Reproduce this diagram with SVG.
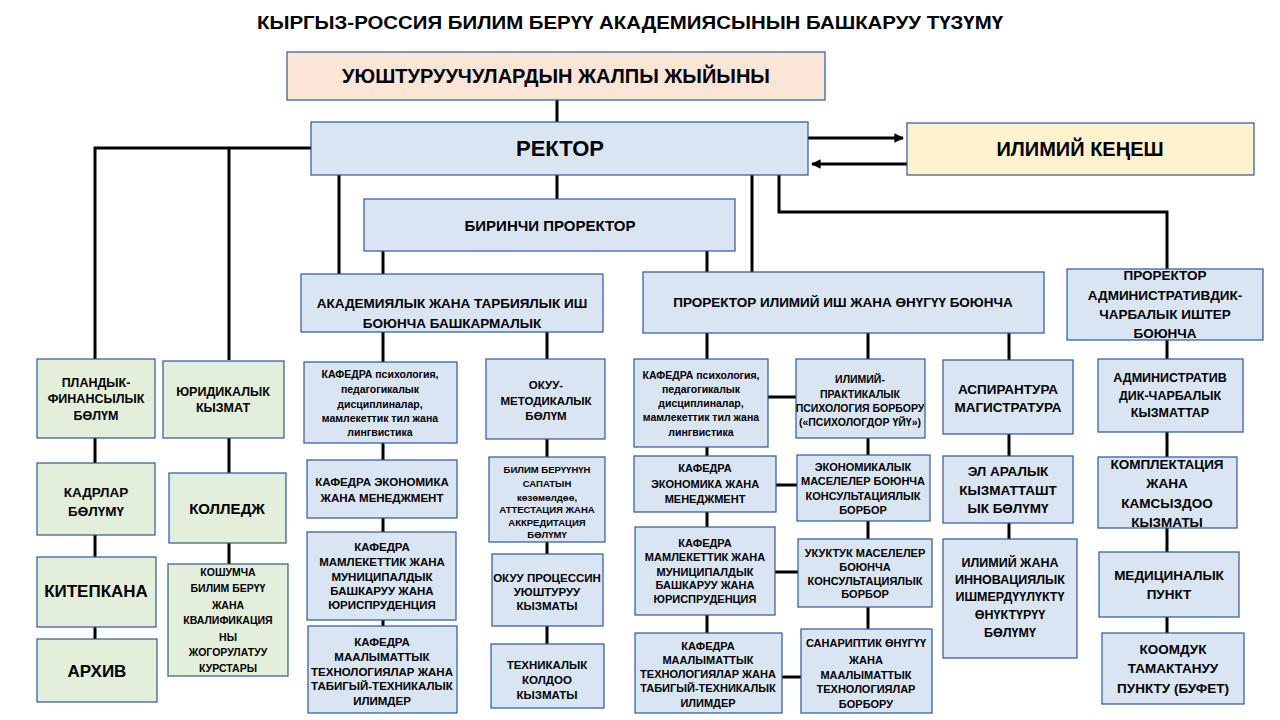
<svg xmlns="http://www.w3.org/2000/svg" width="1280" height="720" viewBox="0 0 1280 720">
<defs>
<marker id="ah" viewBox="0 0 10 10" refX="9" refY="5" markerWidth="3.2" markerHeight="3.2" orient="auto" markerUnits="strokeWidth">
<path d="M0,0 L10,5 L0,10 z" fill="#000"/>
</marker>
<style>
text{font-family:"Liberation Sans","DejaVu Sans",sans-serif;font-weight:bold;fill:#000;text-anchor:middle;dominant-baseline:central}
.bx{stroke:#2f5597;stroke-width:1.2}
.b{fill:#dae5f4}
.g{fill:#e2efda}
.p{fill:#fbe5d6}
.y{fill:#fff2cc}
.c{stroke:#000;stroke-width:3;fill:none}
.f10{font-size:9.5px}.f11{font-size:10.5px}.f115{font-size:11px}.f12{font-size:11.5px}.f13{font-size:12.5px}.f14{font-size:13.5px}.f15{font-size:15px}.f18{font-size:17px}.f21{font-size:20px}
</style>
</defs>
<rect width="1280" height="720" fill="#fff"/>
<text x="630" y="22" style="font-size:19px" textLength="746" lengthAdjust="spacingAndGlyphs">КЫРГЫЗ-РОССИЯ БИЛИМ БЕРҮҮ  АКАДЕМИЯСЫНЫН БАШКАРУУ ТҮЗҮМҮ</text>

<g id="connectors">
<path class="c" d="M557,100V122 M557,175V199"/>
<path class="c" d="M311,148H95V360 M229,148V360 M339,175V274 M383,251V274"/>
<path class="c" d="M707,251V272 M752,175V272 M779,175V212H1167V360"/>
<path class="c" d="M808,138H903" marker-end="url(#ah)"/>
<path class="c" d="M907,164H812" marker-end="url(#ah)"/>
<path class="c" d="M95,438V463 M95,535V557 M95,627V639 M229,438V473 M229,543V564"/>
<path class="c" d="M383,332V362 M383,443V460 M383,518V532 M383,620V626 M547,332V359 M547,439V457 M547,542V554 M547,626V644"/>
<path class="c" d="M707,333V359 M707,447V456 M707,512V527 M707,615V633 M868,333V359 M868,438V455 M868,521V539 M868,607V629 M1009,333V360 M1009,434V456 M1009,523V539"/>
<path class="c" d="M768,397H796 M776,485H797 M775,572H798 M782,677H801"/>
<path class="c" d="M1167,432V457 M1167,528V552 M1167,617V633"/>
</g>

<g id="n-general"><rect class="bx p" x="287" y="52" width="538" height="48"/><text x="556" y="76" class="f21">УЮШТУРУУЧУЛАРДЫН ЖАЛПЫ ЖЫЙЫНЫ</text></g>
<g id="n-rector"><rect class="bx b" x="311" y="122" width="497" height="53"/><text x="560" y="148" style="font-size:22px">РЕКТОР</text></g>
<g id="n-kenesh"><rect class="bx y" x="907" y="123" width="347" height="52"/><text x="1080" y="149" class="f21">ИЛИМИЙ КЕҢЕШ</text></g>
<g id="n-first"><rect class="bx b" x="364" y="199" width="371" height="52"/><text x="550" y="225" class="f15">БИРИНЧИ ПРОРЕКТОР</text></g>
<g id="n-acad"><rect class="bx b" x="301" y="274" width="302" height="58"/><text class="f14"><tspan x="452" y="303">АКАДЕМИЯЛЫК ЖАНА ТАРБИЯЛЫК ИШ</tspan><tspan x="452" y="323">БОЮНЧА БАШКАРМАЛЫК</tspan></text></g>
<g id="n-sci"><rect class="bx b" x="643" y="272" width="401" height="61"/><text x="843" y="302" class="f14">ПРОРЕКТОР ИЛИМИЙ ИШ ЖАНА ӨНҮГҮҮ БОЮНЧА</text></g>
<g id="n-adm"><rect class="bx b" x="1067" y="269" width="196" height="71"/><text class="f14"><tspan x="1165" y="275">ПРОРЕКТОР</tspan><tspan x="1165" y="295">АДМИНИСТРАТИВДИК-</tspan><tspan x="1165" y="314">ЧАРБАЛЫК ИШТЕР</tspan><tspan x="1165" y="333">БОЮНЧА</tspan></text></g>

<g id="n-plan"><rect class="bx g" x="37" y="359" width="118" height="79"/><text class="f13"><tspan x="96" y="383">ПЛАНДЫК-</tspan><tspan x="96" y="399">ФИНАНСЫЛЫК</tspan><tspan x="96" y="416">БӨЛҮМ</tspan></text></g>
<g id="n-jur"><rect class="bx g" x="163" y="361" width="121" height="77"/><text class="f13"><tspan x="223" y="392">ЮРИДИКАЛЫК</tspan><tspan x="223" y="408">КЫЗМАТ</tspan></text></g>
<g id="n-kadr"><rect class="bx g" x="37" y="463" width="118" height="72"/><text class="f14"><tspan x="96" y="492">КАДРЛАР</tspan><tspan x="96" y="511">БӨЛҮМҮ</tspan></text></g>
<g id="n-college"><rect class="bx g" x="169" y="473" width="117" height="70"/><text x="227" y="508" class="f15">КОЛЛЕДЖ</text></g>
<g id="n-lib"><rect class="bx g" x="37" y="557" width="119" height="70"/><text x="96" y="591" class="f18">КИТЕПКАНА</text></g>
<g id="n-extra"><rect class="bx g" x="168" y="564" width="120" height="112"/><text class="f11"><tspan x="228" y="572">КОШУМЧА</tspan><tspan x="228" y="588">БИЛИМ  БЕРҮҮ</tspan><tspan x="228" y="605">ЖАНА</tspan><tspan x="228" y="620">КВАЛИФИКАЦИЯ</tspan><tspan x="228" y="637">НЫ</tspan><tspan x="228" y="652">ЖОГОРУЛАТУУ</tspan><tspan x="228" y="668">КУРСТАРЫ</tspan></text></g>
<g id="n-arch"><rect class="bx g" x="37" y="639" width="120" height="63"/><text x="97" y="671" class="f18">АРХИВ</text></g>

<g id="n-k1-psy"><rect class="bx b" x="304" y="362" width="153" height="81"/><text class="f11"><tspan x="380" y="374">КАФЕДРА психология,</tspan><tspan x="380" y="389">педагогикалык</tspan><tspan x="380" y="404">дисциплиналар,</tspan><tspan x="380" y="418">мамлекеттик тил жана</tspan><tspan x="380" y="432">лингвистика</tspan></text></g>
<g id="n-k1-eco"><rect class="bx b" x="307" y="460" width="150" height="58"/><text class="f12"><tspan x="382" y="482">КАФЕДРА ЭКОНОМИКА</tspan><tspan x="382" y="498">ЖАНА МЕНЕДЖМЕНТ</tspan></text></g>
<g id="n-k1-state"><rect class="bx b" x="307" y="532" width="149" height="88"/><text class="f12"><tspan x="382" y="547">КАФЕДРА</tspan><tspan x="382" y="562">МАМЛЕКЕТТИК ЖАНА</tspan><tspan x="382" y="577">МУНИЦИПАЛДЫК</tspan><tspan x="382" y="591">БАШКАРУУ ЖАНА</tspan><tspan x="382" y="605">ЮРИСПРУДЕНЦИЯ</tspan></text></g>
<g id="n-k1-it"><rect class="bx b" x="308" y="626" width="149" height="87"/><text class="f12"><tspan x="382" y="642">КАФЕДРА</tspan><tspan x="382" y="657">МААЛЫМАТТЫК</tspan><tspan x="382" y="672">ТЕХНОЛОГИЯЛАР ЖАНА</tspan><tspan x="382" y="686">ТАБИГЫЙ-ТЕХНИКАЛЫК</tspan><tspan x="382" y="701">ИЛИМДЕР</tspan></text></g>
<g id="n-method"><rect class="bx b" x="486" y="359" width="119" height="80"/><text class="f12"><tspan x="546" y="385">ОКУУ-</tspan><tspan x="546" y="401">МЕТОДИКАЛЫК</tspan><tspan x="546" y="416">БӨЛҮМ</tspan></text></g>
<g id="n-quality"><rect class="bx b" x="489" y="457" width="116" height="85"/><text class="f10"><tspan x="547" y="469">БИЛИМ БЕРҮҮНҮН</tspan><tspan x="547" y="483">САПАТЫН</tspan><tspan x="547" y="497">көзөмөлдөө,</tspan><tspan x="547" y="509">АТТЕСТАЦИЯ ЖАНА</tspan><tspan x="547" y="522">АККРЕДИТАЦИЯ</tspan><tspan x="547" y="534">БӨЛҮМҮ</tspan></text></g>
<g id="n-process"><rect class="bx b" x="492" y="554" width="111" height="72"/><text class="f12"><tspan x="547" y="578">ОКУУ ПРОЦЕССИН</tspan><tspan x="547" y="592">УЮШТУРУУ</tspan><tspan x="547" y="606">КЫЗМАТЫ</tspan></text></g>
<g id="n-tech"><rect class="bx b" x="491" y="644" width="113" height="64"/><text class="f12"><tspan x="547" y="665">ТЕХНИКАЛЫК</tspan><tspan x="547" y="680">КОЛДОО</tspan><tspan x="547" y="695">КЫЗМАТЫ</tspan></text></g>

<g id="n-k2-psy"><rect class="bx b" x="634" y="359" width="134" height="88"/><text class="f11"><tspan x="701" y="375">КАФЕДРА психология,</tspan><tspan x="701" y="389">педагогикалык</tspan><tspan x="701" y="403">дисциплиналар,</tspan><tspan x="701" y="417">мамлекеттик тил жана</tspan><tspan x="701" y="432">лингвистика</tspan></text></g>
<g id="n-psycenter"><rect class="bx b" x="796" y="359" width="129" height="79"/><text class="f11"><tspan x="860" y="379">ИЛИМИЙ-</tspan><tspan x="860" y="394">ПРАКТИКАЛЫК</tspan><tspan x="860" y="408">ПСИХОЛОГИЯ БОРБОРУ</tspan><tspan x="860" y="422">(«ПСИХОЛОГДОР ҮЙҮ»)</tspan></text></g>
<g id="n-k2-eco"><rect class="bx b" x="634" y="456" width="142" height="56"/><text class="f115"><tspan x="705" y="468">КАФЕДРА</tspan><tspan x="705" y="484">ЭКОНОМИКА ЖАНА</tspan><tspan x="705" y="499">МЕНЕДЖМЕНТ</tspan></text></g>
<g id="n-ecocenter"><rect class="bx b" x="797" y="455" width="133" height="66"/><text class="f115"><tspan x="863" y="467">ЭКОНОМИКАЛЫК</tspan><tspan x="863" y="481">МАСЕЛЕЛЕР БОЮНЧА</tspan><tspan x="863" y="496">КОНСУЛЬТАЦИЯЛЫК</tspan><tspan x="863" y="510">БОРБОР</tspan></text></g>
<g id="n-k2-state"><rect class="bx b" x="635" y="527" width="140" height="88"/><text class="f115"><tspan x="705" y="543">КАФЕДРА</tspan><tspan x="705" y="557">МАМЛЕКЕТТИК ЖАНА</tspan><tspan x="705" y="572">МУНИЦИПАЛДЫК</tspan><tspan x="705" y="585">БАШКАРУУ ЖАНА</tspan><tspan x="705" y="599">ЮРИСПРУДЕНЦИЯ</tspan></text></g>
<g id="n-lawcenter"><rect class="bx b" x="798" y="539" width="134" height="68"/><text class="f115"><tspan x="865" y="553">УКУКТУК МАСЕЛЕЛЕР</tspan><tspan x="865" y="567">БОЮНЧА</tspan><tspan x="865" y="581">КОНСУЛЬТАЦИЯЛЫК</tspan><tspan x="865" y="594">БОРБОР</tspan></text></g>
<g id="n-k2-it"><rect class="bx b" x="635" y="633" width="147" height="80"/><text class="f115"><tspan x="708" y="646">КАФЕДРА</tspan><tspan x="708" y="660">МААЛЫМАТТЫК</tspan><tspan x="708" y="674">ТЕХНОЛОГИЯЛАР ЖАНА</tspan><tspan x="708" y="688">ТАБИГЫЙ-ТЕХНИКАЛЫК</tspan><tspan x="708" y="703">ИЛИМДЕР</tspan></text></g>
<g id="n-digital"><rect class="bx b" x="801" y="629" width="131" height="84"/><text class="f115"><tspan x="866" y="643">САНАРИПТИК ӨНҮГҮҮ</tspan><tspan x="866" y="660">ЖАНА</tspan><tspan x="866" y="675">МААЛЫМАТТЫК</tspan><tspan x="866" y="689">ТЕХНОЛОГИЯЛАР</tspan><tspan x="866" y="704">БОРБОРУ</tspan></text></g>

<g id="n-asp"><rect class="bx b" x="943" y="360" width="130" height="74"/><text class="f14"><tspan x="1008" y="389">АСПИРАНТУРА</tspan><tspan x="1008" y="407">МАГИСТРАТУРА</tspan></text></g>
<g id="n-intl"><rect class="bx b" x="943" y="456" width="130" height="67"/><text class="f14"><tspan x="1008" y="471">ЭЛ АРАЛЫК</tspan><tspan x="1008" y="490">КЫЗМАТТАШТ</tspan><tspan x="1008" y="508">ЫК БӨЛҮМҮ</tspan></text></g>
<g id="n-innov"><rect class="bx b" x="943" y="539" width="134" height="119"/><text class="f13"><tspan x="1010" y="563">ИЛИМИЙ ЖАНА</tspan><tspan x="1010" y="580">ИННОВАЦИЯЛЫК</tspan><tspan x="1010" y="597">ИШМЕРДҮҮЛҮКТҮ</tspan><tspan x="1010" y="615">ӨНҮКТҮРҮҮ</tspan><tspan x="1010" y="633">БӨЛҮМҮ</tspan></text></g>
<g id="n-admserv"><rect class="bx b" x="1098" y="359" width="145" height="73"/><text class="f13"><tspan x="1170" y="378">АДМИНИСТРАТИВ</tspan><tspan x="1170" y="396">ДИК-ЧАРБАЛЫК</tspan><tspan x="1170" y="413">КЫЗМАТТАР</tspan></text></g>
<g id="n-supply"><rect class="bx b" x="1098" y="457" width="139" height="71"/><text class="f14"><tspan x="1167" y="464">КОМПЛЕКТАЦИЯ</tspan><tspan x="1167" y="483">ЖАНА</tspan><tspan x="1167" y="503">КАМСЫЗДОО</tspan><tspan x="1167" y="522">КЫЗМАТЫ</tspan></text></g>
<g id="n-med"><rect class="bx b" x="1099" y="552" width="140" height="65"/><text class="f14"><tspan x="1169" y="575">МЕДИЦИНАЛЫК</tspan><tspan x="1169" y="594">ПУНКТ</tspan></text></g>
<g id="n-buffet"><rect class="bx b" x="1102" y="633" width="142" height="71"/><text class="f14"><tspan x="1173" y="649">КООМДУК</tspan><tspan x="1173" y="668">ТАМАКТАНУУ</tspan><tspan x="1173" y="688">ПУНКТУ (БУФЕТ)</tspan></text></g>
</svg>
